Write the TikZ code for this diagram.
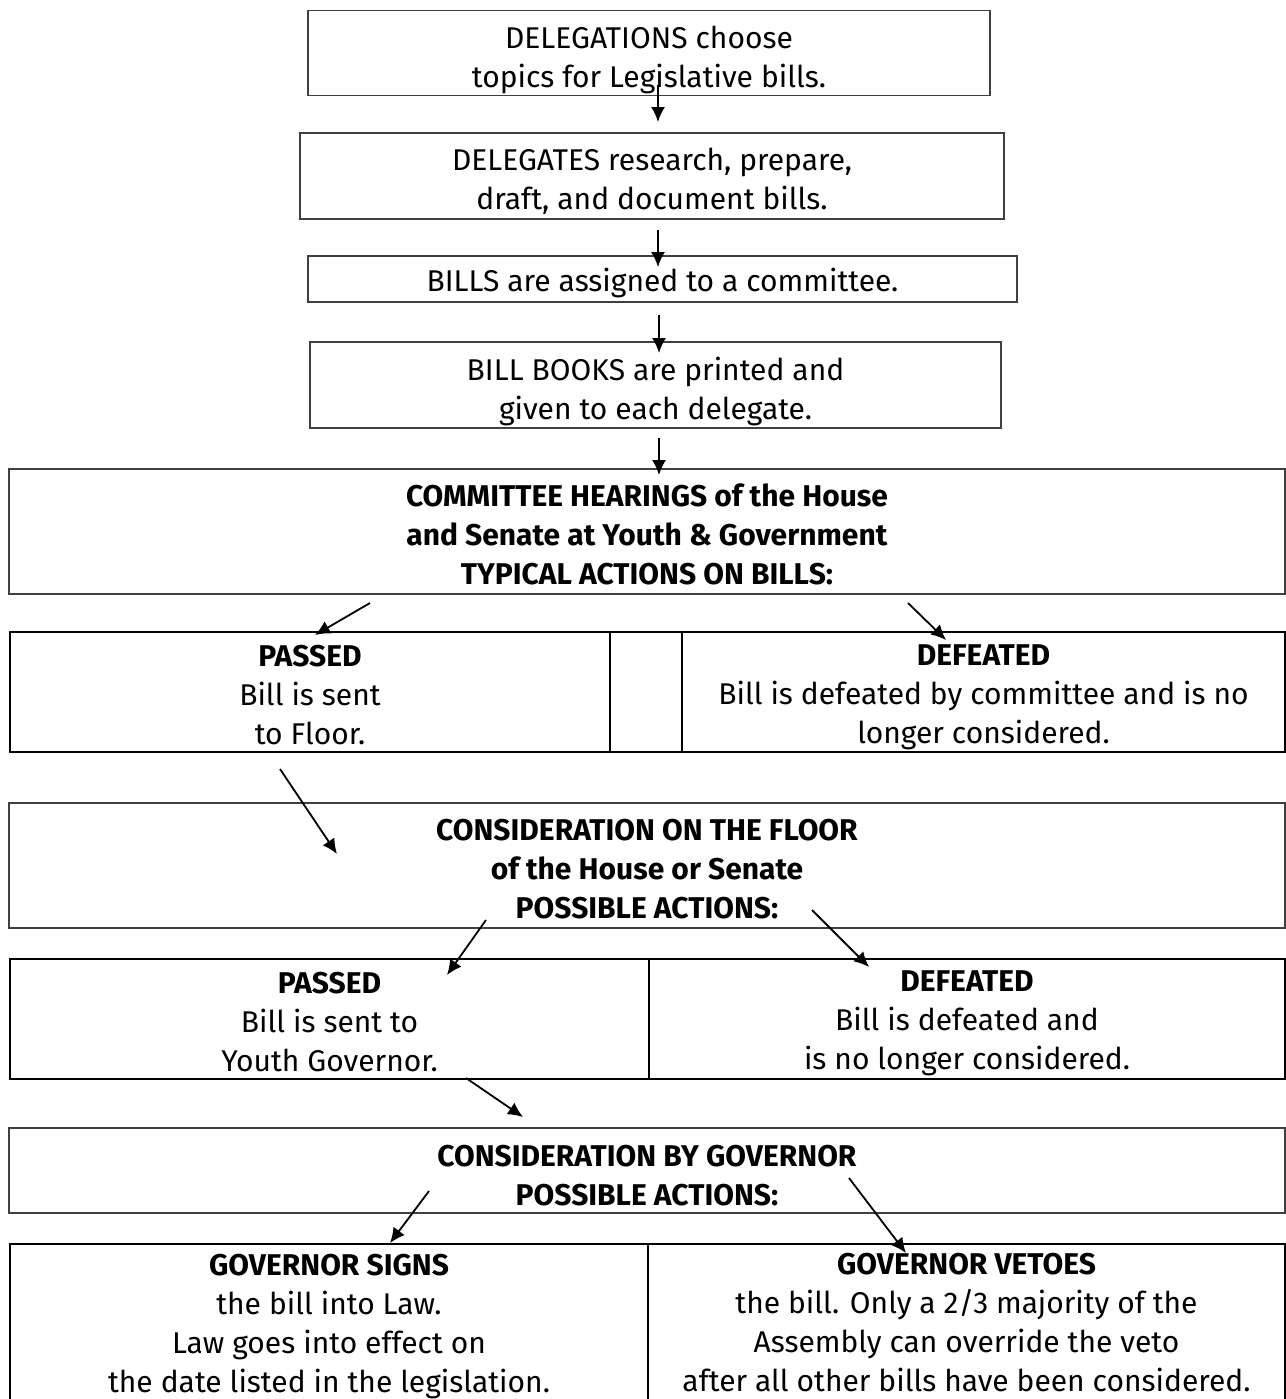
\documentclass[tikz,border=0pt]{standalone}
\usepackage{fontspec}
\setmainfont{Fira Sans}
\usetikzlibrary{arrows.meta}
% lowers the text of a box by #1 px
\newcommand{\drop}[1]{\vrule width 0pt height \dimexpr 11pt + #1pt\relax}

\begin{document}
\begin{tikzpicture}[x=0.5pt, y=-0.5pt,
        every node/.style={font=\fontsize{15}{19.5}\selectfont, align=center, inner sep=0pt, outer sep=0pt},
        box/.style={draw=black!75, line width=0.7pt},
        cell/.style={draw=black, line width=1.2pt},
        flow/.style={black, line width=0.9pt, -{Latex[length=7.5pt, width=7pt]}}]
        \useasboundingbox (0,0) rectangle (1286,1399);

        % steps before the hearings
        \node [box, minimum width=341pt, minimum height=42.5pt] (choose) at (649,53) {\drop{7}DELEGATIONS choose\\topics for Legislative bills.};
        \node [box, minimum width=352pt, minimum height=43pt] (draft) at (652,176) {\drop{5}DELEGATES research, prepare,\\draft, and document bills.};
        \node [box, minimum width=354.5pt, minimum height=23pt] (assign) at (662.5,279) {\drop{5}BILLS are assigned to a committee.};
        \node [box, minimum width=345.5pt, minimum height=43pt] (books) at (655.5,385) {\drop{7}BILL BOOKS are printed and\\given to each delegate.};

        % committee
        \node [box, minimum width=638pt, minimum height=62.5pt] (hearing) at (647,531.5) {\drop{3}\textbf{COMMITTEE HEARINGS of the House}\\\textbf{and Senate at Youth \& Government}\\\textbf{TYPICAL ACTIONS ON BILLS:}};
        \node [cell, minimum width=300pt, minimum height=60pt] (passA) at (310,692) {\drop{3}\textbf{PASSED}\\Bill is sent\\to Floor.};
        \node [cell, minimum width=36pt, minimum height=60pt] (gapA) at (646,692) {};
        \node [cell, minimum width=301.5pt, minimum height=60pt] (failA) at (983.5,692) {\drop{5}\textbf{DEFEATED}\\Bill is defeated by committee and is no\\longer considered.};

        % floor
        \node [box, minimum width=638pt, minimum height=62.5pt] (floor) at (647,865.5) {\drop{3}\textbf{CONSIDERATION ON THE FLOOR}\\\textbf{of the House or Senate}\\\textbf{POSSIBLE ACTIONS:}};
        \node [cell, minimum width=319.5pt, minimum height=60pt] (passB) at (329.5,1019) {\drop{3}\textbf{PASSED}\\Bill is sent to\\Youth Governor.};
        \node [cell, minimum width=318pt, minimum height=60pt] (failB) at (967,1019) {\drop{4}\textbf{DEFEATED}\\Bill is defeated and\\is no longer considered.};

        % governor
        \node [box, minimum width=638pt, minimum height=42.5pt] (gov) at (647,1170.5) {\drop{5}\textbf{CONSIDERATION BY GOVERNOR}\\\textbf{POSSIBLE ACTIONS:}};
        \node [cell, minimum width=319pt, minimum height=79pt] (sign) at (329,1323) {\drop{3}\textbf{GOVERNOR SIGNS}\\the bill into Law.\\Law goes into effect on\\the date listed in the legislation.};
        \node [cell, minimum width=318.5pt, minimum height=79pt] (veto) at (966.5,1323) {\textbf{GOVERNOR VETOES}\\the bill. Only a 2/3 majority of the\\Assembly can override the veto\\after all other bills have been considered.};

        % arrows
        \draw [flow] ([shift={(9,-11)}]choose.south) to ([shift={(6,-11)}]draft.north);
        \draw [flow] ([shift={(6,11)}]draft.south) to ([shift={(-4.5,11)}]assign.north);
        \draw [flow] ([shift={(-3.5,13)}]assign.south) to ([shift={(3.5,11)}]books.north);
        \draw [flow] ([shift={(3.5,10)}]books.south) to ([shift={(12,6)}]hearing.north);

        \draw [flow] ([shift={(-277,9)}]hearing.south) to ([shift={(5,3)}]passA.north);
        \draw [flow] ([shift={(261,9)}]hearing.south) to ([shift={(-37.5,8)}]failA.north);
        \draw [flow] ([shift={(-30,17)}]passA.south) to ([shift={(-310,51)}]floor.north);

        \draw [flow] ([shift={(-161,-8)}]floor.south) to ([shift={(117.5,16)}]passB.north);
        \draw [flow] ([shift={(165,-18)}]floor.south) to ([shift={(-98,8)}]failB.north);
        \draw [flow] ([shift={(136.5,-1)}]passB.south) to ([shift={(-124,-11)}]gov.north);

        \draw [flow] ([shift={(-218,-22)}]gov.south) to ([shift={(61,-1)}]sign.north);
        \draw [flow] ([shift={(202,-35)}]gov.south) to ([shift={(-60.5,9)}]veto.north);
\end{tikzpicture}
\end{document}
